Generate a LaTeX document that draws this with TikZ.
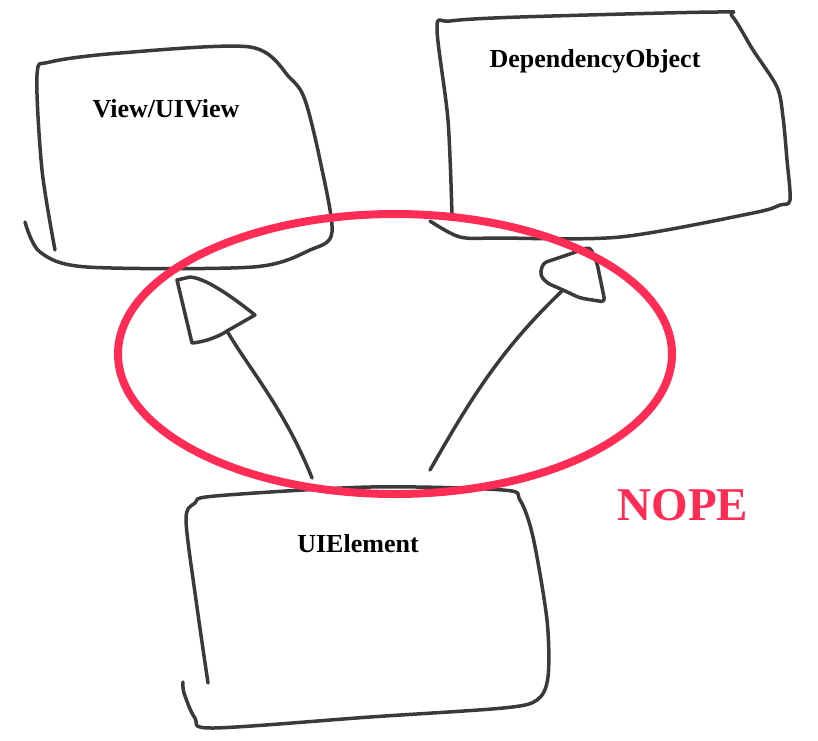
\documentclass[tikz,border=0pt]{standalone}
\usepackage{fontspec}
\setmainfont{Liberation Serif}
\definecolor{nopered}{RGB}{255,45,85}
\definecolor{pencil}{RGB}{58,58,58}
\begin{document}
\begin{tikzpicture}[x=1pt, y=-1pt,
		sketch/.style={draw=pencil, line width=3.5pt, line cap=round, line join=round},
		title/.style={anchor=base, font=\bfseries\fontsize{26}{30}\selectfont},
		nope/.style={draw=nopered, line width=8pt}]
		\useasboundingbox (0,0) rectangle (818,740);
		% hand drawn boxes
		\draw[sketch] plot[smooth, tension=0.5] coordinates {(55,250) (42,170) (37,75) (50,62) (120,53) (250,47) (290,78) (305,100) (320,160) (332,232) (310,250) (253,267) (87,267) (40,252) (25,222)};
		\draw[sketch] plot[smooth, tension=0.5] coordinates {(452,215) (448,120) (437,28) (450,21) (520,17) (717,12) (732,16) (753,50) (777,87) (783,117) (787,160) (790,200) (780,205) (753,213) (620,237) (500,238) (460,237) (430,221)};
		\draw[sketch] plot[smooth, tension=0.5] coordinates {(208,683) (196,600) (186,520) (195,503) (215,496) (370,487) (503,490) (520,500) (533,537) (547,620) (548,677) (537,700) (503,708) (370,717) (213,728) (195,718) (184,693) (183,682)};
		\node[title] (view) at (166,117) {View/UIView};
		\node[title] (depobj) at (595,67) {DependencyObject};
		\node[title] (uielem) at (358,552) {UIElement};
		% inheritance arrows
		\coordinate (uil) at (312,478);
		\coordinate (viewbase) at (227,331);
		\coordinate (uir) at (430,470);
		\coordinate (depbase) at (563,290);
		\draw[sketch] (uil) .. controls (285,410) and (250,370) .. (viewbase);
		\draw[sketch] (255,315) .. controls (230,295) and (205,278) .. (190,277) -- (177,280) -- (192,343) .. controls (205,342) and (220,336) .. (viewbase) -- cycle;
		\draw[sketch] (uir) .. controls (470,400) and (500,350) .. (depbase);
		\draw[sketch, rounded corners=4pt] (depbase) -- (547,283) -- (540,275) -- (543,263) -- (567,255) -- (590,247) -- (597,263) -- (605,302) -- (580,298) -- cycle;
		% the red ring
		\draw[nope] (395,354) ellipse [x radius=277, y radius=140];
		\node[title, text=nopered, font=\bfseries\fontsize{47}{50}\selectfont] (no) at (683,520) {NOPE};
	\end{tikzpicture}
\end{document}
